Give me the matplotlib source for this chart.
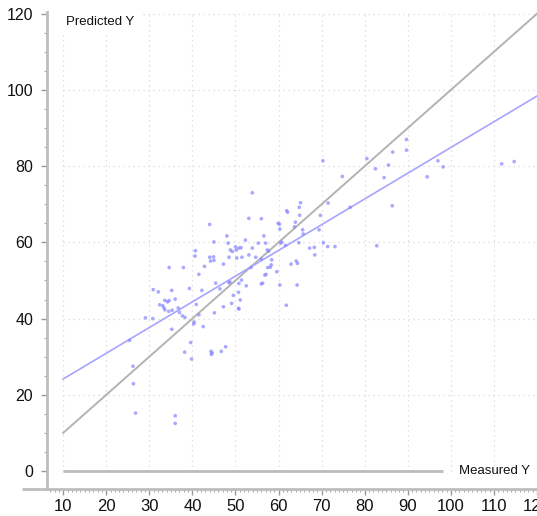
import matplotlib
matplotlib.use("Agg")
import matplotlib.pyplot as plt
from matplotlib.ticker import MultipleLocator
from matplotlib import font_manager
import numpy as np

# measured vs predicted values
measured = [89.7, 89.7, 86.5, 80.5, 70.3, 97.0, 114.7, 111.8, 85.5, 98.2,
            82.5, 74.8, 94.5, 84.5, 53.9, 65.1, 71.5, 86.4, 64.8, 76.6,
            61.9, 62.1, 64.9, 69.7, 53.1, 56.0, 63.9, 59.9, 60.2, 44.0,
            63.7, 60.3, 65.6, 69.4, 65.7, 48.0, 56.6, 45.0, 52.3, 48.3,
            55.3, 57.0, 60.5, 60.7, 64.7, 70.4, 61.6, 50.0, 50.8, 51.3,
            53.9, 67.2, 68.3, 71.4, 73.1, 40.7, 40.6, 48.8, 49.3, 50.2,
            57.4, 57.7, 53.1, 68.4, 54.7, 56.0, 51.5, 50.3, 48.5, 44.0,
            44.9, 58.4, 45.0, 44.2, 64.1, 58.3, 62.9, 64.4, 42.8, 47.2,
            53.6, 57.5, 58.1, 34.6, 37.9, 59.6, 57.1, 56.8, 41.5, 45.4,
            48.5, 50.8, 52.5, 51.4, 56.0, 56.3, 60.3, 64.3, 39.3, 42.2,
            46.4, 30.9, 32.1, 35.2, 50.7, 49.5, 51.1, 49.1, 33.6, 34.2,
            34.6, 36.0, 32.4, 33.1, 33.6, 33.4, 34.5, 36.7, 37.0, 37.7,
            38.3, 40.9, 35.3, 47.2, 50.7, 50.8, 61.8, 45.1, 29.1, 30.8,
            40.4, 40.3, 41.5, 42.5, 35.2, 25.4, 39.6, 38.2, 39.8, 44.3,
            44.6, 44.4, 46.7, 47.7, 26.2, 26.3, 26.8, 36.0, 36.0, 82.8,
            48.7]
predicted = [87.0, 84.2, 83.7, 82.0, 81.4, 81.4, 81.2, 80.6, 80.3, 79.8,
             79.3, 77.3, 77.2, 77.0, 73.0, 70.4, 70.3, 69.6, 69.2, 69.2,
             68.3, 67.9, 67.1, 67.1, 66.3, 66.2, 65.3, 65.0, 64.8, 64.7,
             64.1, 63.5, 63.3, 63.3, 62.2, 61.7, 61.7, 60.1, 60.6, 59.8,
             59.8, 59.8, 59.8, 60.1, 59.9, 59.9, 59.2, 58.8, 58.5, 58.6,
             58.5, 58.5, 58.7, 58.9, 58.9, 57.8, 56.4, 58.0, 57.6, 58.0,
             58.0, 57.7, 56.7, 56.7, 56.1, 55.6, 56.1, 55.9, 56.1, 56.1,
             56.2, 55.4, 55.3, 55.1, 55.1, 54.1, 54.3, 54.5, 53.7, 54.3,
             53.4, 53.4, 53.5, 53.4, 53.4, 52.3, 51.6, 51.4, 51.6, 49.3,
             49.4, 49.2, 48.6, 50.1, 49.1, 49.3, 48.8, 48.8, 47.9, 47.4,
             47.8, 47.6, 47.0, 47.4, 46.9, 46.1, 44.9, 44.0, 44.8, 44.4,
             44.7, 45.1, 43.6, 43.4, 42.3, 42.8, 41.9, 42.8, 41.6, 40.7,
             40.3, 43.7, 42.2, 43.1, 42.7, 42.5, 43.5, 41.5, 40.2, 40.0,
             39.1, 38.6, 41.0, 37.9, 37.2, 34.3, 33.7, 31.2, 29.4, 31.4,
             31.0, 30.6, 31.4, 32.6, 27.5, 22.9, 15.2, 14.5, 12.5, 59.1,
             49.6]

# fitted line (intercept, slope) and identity line
fit_intercept = 17.4
fit_slope = 0.675
line_start = 10
x_ticks = list(range(10, 121, 10))
y_ticks = list(range(0, 121, 20))

names = {f.name for f in font_manager.fontManager.ttflist}
fam = ["Liberation Sans Narrow", "Liberation Sans", "DejaVu Sans"]
fam = [f for f in fam if f in names] or ["DejaVu Sans"]
plt.rcParams["font.family"] = fam

fig = plt.figure(figsize=(5.37, 5.16), dpi=100)
ax = fig.add_axes([47 / 537, 27 / 516, 490 / 537, 489 / 516])
ax.set_xlim(6.24, 119.4)
ax.set_ylim(-4.72, 123.6)

axis_col = "#bdbdbd"
for s in ["top", "right"]:
    ax.spines[s].set_visible(False)
ax.spines["left"].set_color(axis_col)
ax.spines["left"].set_linewidth(2)
ax.spines["left"].set_bounds(-4.72, 120.5)
ax.spines["bottom"].set_color(axis_col)
ax.spines["bottom"].set_linewidth(2)
ax.plot([0.45, 6.24], [-4.72, -4.72], color=axis_col, lw=2, clip_on=False,
        solid_capstyle="butt")

ax.set_xticks(x_ticks)
ax.set_yticks(y_ticks)
ax.xaxis.set_minor_locator(MultipleLocator(1))
ax.yaxis.set_minor_locator(MultipleLocator(5))
ax.tick_params(axis="both", which="major", color="#999999", length=4,
               width=1, labelcolor="#111111")
ax.tick_params(axis="both", which="minor", color="#aaaaaa", length=2, width=0.8)
ax.tick_params(axis="x", which="major", labelsize=12, pad=3)
ax.tick_params(axis="y", which="major", labelsize=11.5, pad=6)

# dotted grid
ax.vlines(x_ticks, 0, 120, colors="#d9d9d9", linestyles=(0, (1, 3)), lw=0.9, zorder=0)
ax.hlines(y_ticks[1:], 10, 120, colors="#d9d9d9", linestyles=(0, (1, 3)), lw=0.9, zorder=0)

# zero line
ax.plot([10, 98.2], [0, 0], color="#bbbbbb", lw=2, solid_capstyle="butt")

xs = np.array([line_start, 125])
ax.plot(xs, xs, color="#b3b3b3", lw=1.4, zorder=2)
ax.plot(xs, fit_intercept + fit_slope * xs, color="#a5a5ff", lw=1.2, zorder=2)

ax.scatter(measured, predicted, s=7, color="#8585ff", alpha=0.7,
           edgecolors="none", zorder=3)

ax.text(10.7, 117.8, "Predicted Y", fontsize=9.5, ha="left", va="center",
        color="#111111",
        bbox=dict(facecolor="white", edgecolor="none", pad=5), zorder=4)
ax.text(101.9, 0, "Measured Y", fontsize=9.5, ha="left", va="center",
        color="#111111")

fig.savefig("out.png", dpi=100)
